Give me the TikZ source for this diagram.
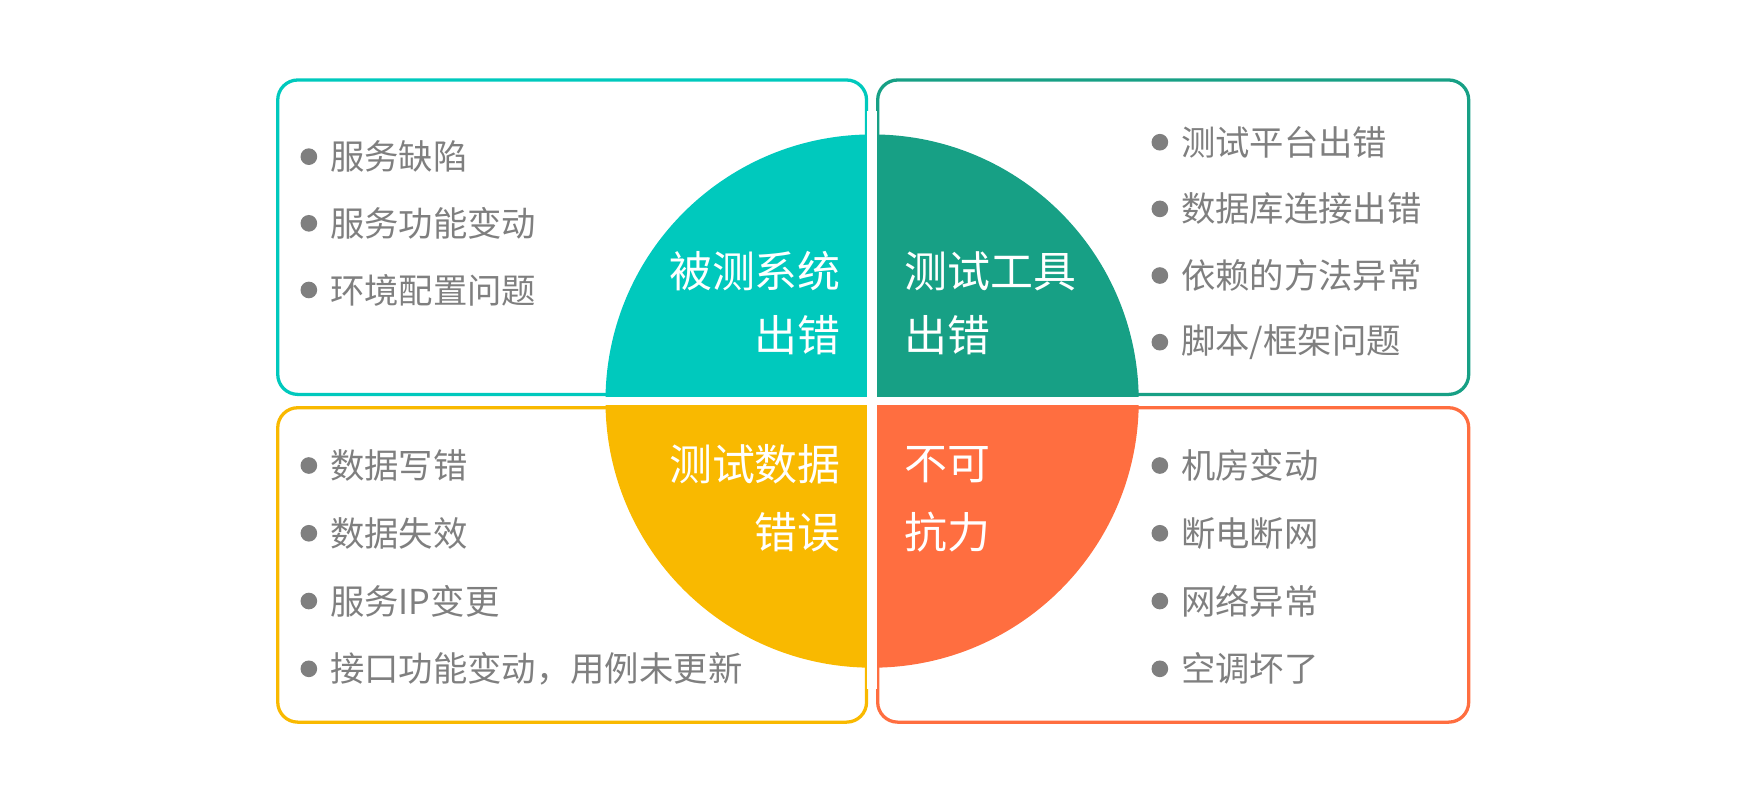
\documentclass[tikz,border=0pt]{standalone}
\usepackage{fontspec}
\newfontfamily\cjk{Noto Sans CJK SC}
\definecolor{cA}{HTML}{00C9BD}
\definecolor{cB}{HTML}{17A085}
\definecolor{cC}{HTML}{F9B900}
\definecolor{cD}{HTML}{FF6E40}
\definecolor{tg}{HTML}{7F7F7F}
\begin{document}
\begin{tikzpicture}[x=0.05cm,y=-0.05cm,
  box/.style={line width=4.2pt,rounded corners=0.9cm},
  item/.style={anchor=west,text=tg,font=\cjk\fontsize{44}{50}\selectfont,inner sep=0},
  dot/.style={circle,fill=tg,minimum size=0.75cm,inner sep=0},
  big/.style={text=white,font=\cjk\fontsize{55}{60}\selectfont,inner sep=0}]
\useasboundingbox (0,0) rectangle (1568,720);
\draw[box,cA] (250,72) rectangle (780,355);
\draw[box,cB] (790,72) rectangle (1322,355);
\draw[box,cC] (250,367) rectangle (780,650);
\draw[box,cD] (790,367) rectangle (1322,650);
\fill[cA] (785,361) -- (545,361) arc[start angle=180,end angle=90,radius=12cm] -- cycle;
\fill[cB] (785,361) -- (785,121) arc[start angle=90,end angle=0,radius=12cm] -- cycle;
\fill[cC] (785,361) -- (545,361) arc[start angle=180,end angle=270,radius=12cm] -- cycle;
\fill[cD] (785,361) -- (1025,361) arc[start angle=0,end angle=-90,radius=12cm] -- cycle;
\fill[white] (780.5,100) rectangle (789.5,620);
\fill[white] (530,357.5) rectangle (1040,364.5);
\draw[box,cA] (545,355) -- (560,355);
\draw[box,cB] (1010,355) -- (1025,355);
\draw[box,cC] (545,367) -- (560,367);
\draw[box,cD] (1010,367) -- (1025,367);
\node[big,anchor=east] (a1) at (757,244) {被测系统};
\node[big,anchor=east] (a2) at (757,302) {出错};
\node[big,anchor=west] (b1) at (814,244) {测试工具};
\node[big,anchor=west] (b2) at (814,302) {出错};
\node[big,anchor=east] (c1) at (757,418) {测试数据};
\node[big,anchor=east] (c2) at (757,479) {错误};
\node[big,anchor=west] (d1) at (814,418) {不可};
\node[big,anchor=west] (d2) at (814,479) {抗力};
\foreach \t [count=\i] in {服务缺陷,服务功能变动,环境配置问题}{
  \node[dot] (ad\i) at (278,81+60*\i) {};
  \node[item] (at\i) at (297,81+60*\i) {\t};}
\foreach \t [count=\i] in {测试平台出错,数据库连接出错,依赖的方法异常,脚本/框架问题}{
  \node[dot] (bd\i) at (1044,68+60*\i) {};
  \node[item] (bt\i) at (1063,68+60*\i) {\t};}
\foreach \t [count=\i] in {数据写错,数据失效,服务IP变更,接口功能变动，用例未更新}{
  \node[dot] (cd\i) at (278,358+61*\i) {};
  \node[item] (ct\i) at (297,358+61*\i) {\t};}
\foreach \t [count=\i] in {机房变动,断电断网,网络异常,空调坏了}{
  \node[dot] (dd\i) at (1044,358+61*\i) {};
  \node[item] (dt\i) at (1063,358+61*\i) {\t};}
\end{tikzpicture}
\end{document}
